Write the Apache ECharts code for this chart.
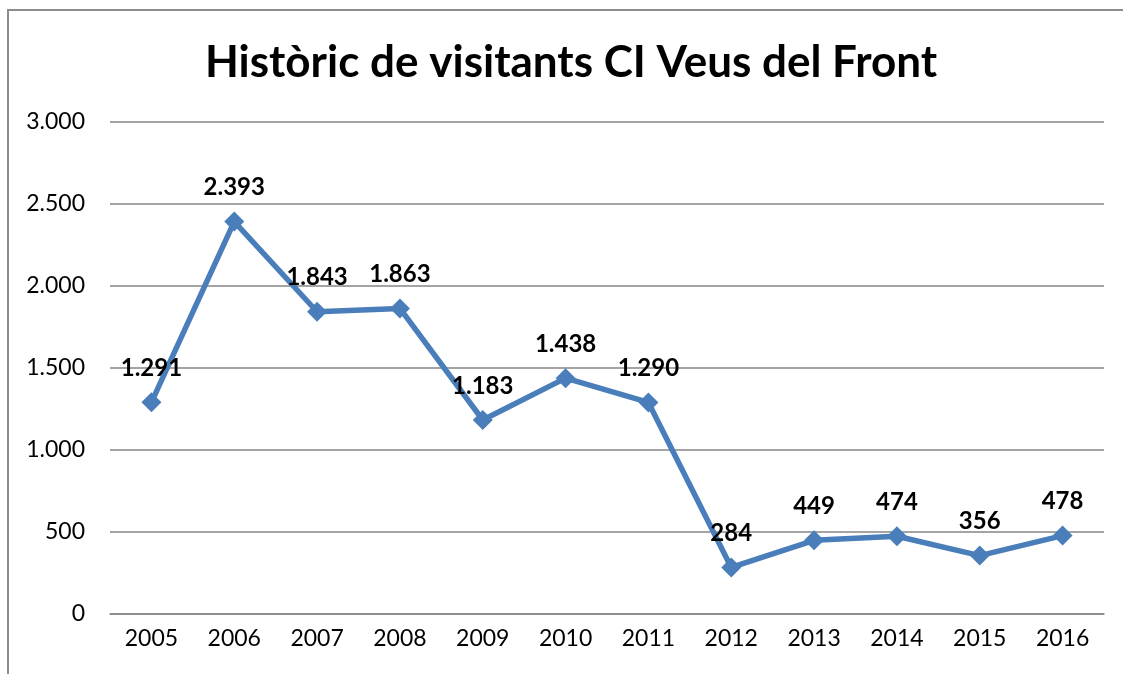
<!DOCTYPE html>
<html>
<head>
<meta charset="utf-8">
<script src="https://cdn.jsdelivr.net/npm/echarts@6/dist/echarts.min.js"></script>
<style>
  html, body { margin: 0; padding: 0; background: #fff; }
  #frame { position: absolute; left: 7px; top: 9px; width: 1200px; height: 700px;
           border-left: 2px solid #8c8c8c; border-top: 2px solid #8c8c8c; }
  #main { position: absolute; left: 0; top: 0; width: 1123px; height: 674px; }
</style>
</head>
<body>
<div id="frame"></div>
<div id="main"></div>
<script>
// anys i visitants
const years = ["2005", "2006", "2007", "2008", "2009", "2010", "2011", "2012", "2013", "2014", "2015", "2016"];
const visitors = [1291, 2393, 1843, 1863, 1183, 1438, 1290, 284, 449, 474, 356, 478];
const yTicks = [0, 500, 1000, 1500, 2000, 2500, 3000];

// separador de milers amb punt
function fmt(v) {
  return String(v).replace(/\B(?=(\d{3})+(?!\d))/g, ".");
}

const chart = echarts.init(document.getElementById("main"));
chart.setOption({
  animation: false,
  textStyle: { fontFamily: "Lato" },
  title: {
    text: "Històric de visitants CI Veus del Front",
    left: 200,
    top: 36,
    textStyle: { fontSize: 44, fontWeight: "bold", color: "#000", fontFamily: "Lato" },
  },
  grid: { left: 110, right: 19, top: 122, bottom: 60 },
  xAxis: {
    type: "category",
    data: years,
    axisLine: { lineStyle: { color: "#868686", width: 1.5 } },
    axisTick: { show: false },
    axisLabel: { color: "#000", fontSize: 23, margin: 13 },
  },
  yAxis: {
    type: "value",
    min: yTicks[0],
    max: yTicks[yTicks.length - 1],
    interval: 500,
    axisLine: { show: false },
    axisTick: { show: false },
    axisLabel: { color: "#000", fontSize: 23, margin: 25, formatter: fmt },
    splitLine: { lineStyle: { color: "#868686", width: 1.5 } },
  },
  series: [
    {
      type: "line",
      data: visitors,
      symbol: "diamond",
      symbolSize: 20,
      lineStyle: { color: "#4a7ebb", width: 5.5 },
      itemStyle: { color: "#4a7ebb" },
      label: {
        show: true,
        position: "top",
        distance: 12,
        fontSize: 24,
        fontWeight: "bold",
        color: "#000",
        formatter: (p) => fmt(p.value),
      },
    },
  ],
});
</script>
</body>
</html>
